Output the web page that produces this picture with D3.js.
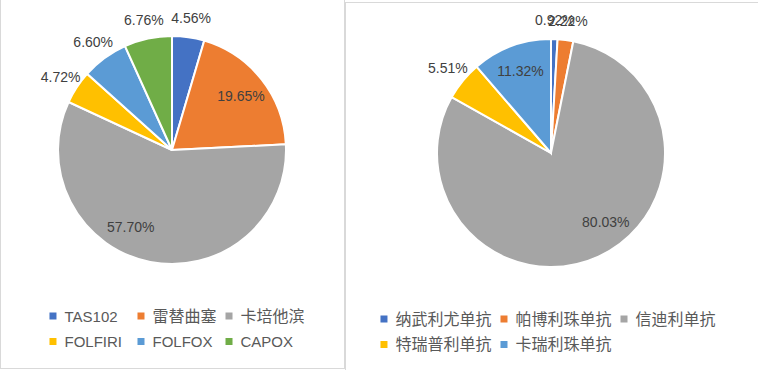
<!DOCTYPE html>
<html>
<head>
<meta charset="utf-8">
<script src="https://cdn.jsdelivr.net/npm/d3@7"></script>
<style>
  body { margin: 0; background: #fff; }
  svg { display: block; font-family: "Liberation Sans", "Noto Sans CJK SC", sans-serif; }
</style>
</head>
<body>
<svg id="chart" width="758" height="370"></svg>
<script>
// left chart: chemo regimens
const leftNames = ['TAS102', '雷替曲塞', '卡培他滨', 'FOLFIRI', 'FOLFOX', 'CAPOX'];
const leftValues = [4.56, 19.65, 57.70, 4.72, 6.60, 6.76];

// right chart: PD-1 antibodies
const rightNames = ['纳武利尤单抗', '帕博利珠单抗', '信迪利单抗', '特瑞普利单抗', '卡瑞利珠单抗'];
const rightValues = [0.92, 2.22, 80.03, 5.51, 11.32];

const colors = ['#4472C4', '#ED7D31', '#A5A5A5', '#FFC000', '#5B9BD5', '#70AD47'];

const svg = d3.select('#chart');

// panel frames
svg.append('rect').attr('x', 0.5).attr('y', -1).attr('width', 344).attr('height', 369.5)
  .attr('fill', 'none').attr('stroke', '#d9d9d9');
svg.append('rect').attr('x', 345.5).attr('y', 2.5).attr('width', 420).attr('height', 380)
  .attr('fill', 'none').attr('stroke', '#d9d9d9');

// best-fit style nudges (degrees) for big inside labels
const labelNudge = { '卡培他滨': 17, '信迪利单抗': -14 };

function drawPie(names, values, cx, cy, r) {
  const g = svg.append('g').attr('transform', `translate(${cx},${cy})`);
  const data = names.map((n, i) => ({ name: n, value: values[i], color: colors[i] }));

  const pie = d3.pie().sort(null).value(d => d.value);
  const arc = d3.arc().innerRadius(0).outerRadius(r);
  const arcs = pie(data);

  g.selectAll('path')
    .data(arcs)
    .enter()
    .append('path')
    .attr('d', arc)
    .attr('fill', d => d.data.color)
    .attr('stroke', '#fff')
    .attr('stroke-width', 2);

  g.selectAll('.lbl')
    .data(arcs)
    .enter()
    .append('text')
    .attr('class', 'lbl')
    .attr('transform', d => {
      const inside = d.data.value > 10;
      const a = (d.startAngle + d.endAngle) / 2 + (labelNudge[d.data.name] || 0) * Math.PI / 180;
      const rr = inside ? r * 0.77 : r * 1.17;
      return `translate(${Math.sin(a) * rr},${-Math.cos(a) * rr})`;
    })
    .attr('text-anchor', 'middle')
    .attr('dominant-baseline', 'central')
    .attr('font-size', 14)
    .attr('fill', '#404040')
    .text(d => d.data.value.toFixed(2) + '%');

  // legend, 3 columns, centred under the pie
  const lg = svg.append('g');
  const isCjk = s => /[\u4e00-\u9fff]/.test(s);
  const items = lg.selectAll('g')
    .data(data)
    .enter()
    .append('g');
  items.append('rect')
    .attr('width', 7).attr('height', 7)
    .attr('y', -3.5)
    .attr('fill', d => d.color);
  items.append('text')
    .attr('x', 15)
    .attr('dominant-baseline', 'central')
    .attr('font-size', d => isCjk(d.name) ? 16 : 15)
    .attr('fill', '#595959')
    .text(d => d.name);

  let maxW = 0;
  items.select('text').each(function () { maxW = Math.max(maxW, this.getComputedTextLength()); });
  const colW = maxW + 24;
  const total = colW * 3 - 9;
  const x0 = cx + 5 - total / 2;
  items.attr('transform', (d, i) => `translate(${x0 + (i % 3) * colW},${cy + 166 + Math.floor(i / 3) * 25.5})`);
}

drawPie(leftNames, leftValues, 172, 150, 114);
drawPie(rightNames, rightValues, 551, 153, 114);
</script>
</body>
</html>
